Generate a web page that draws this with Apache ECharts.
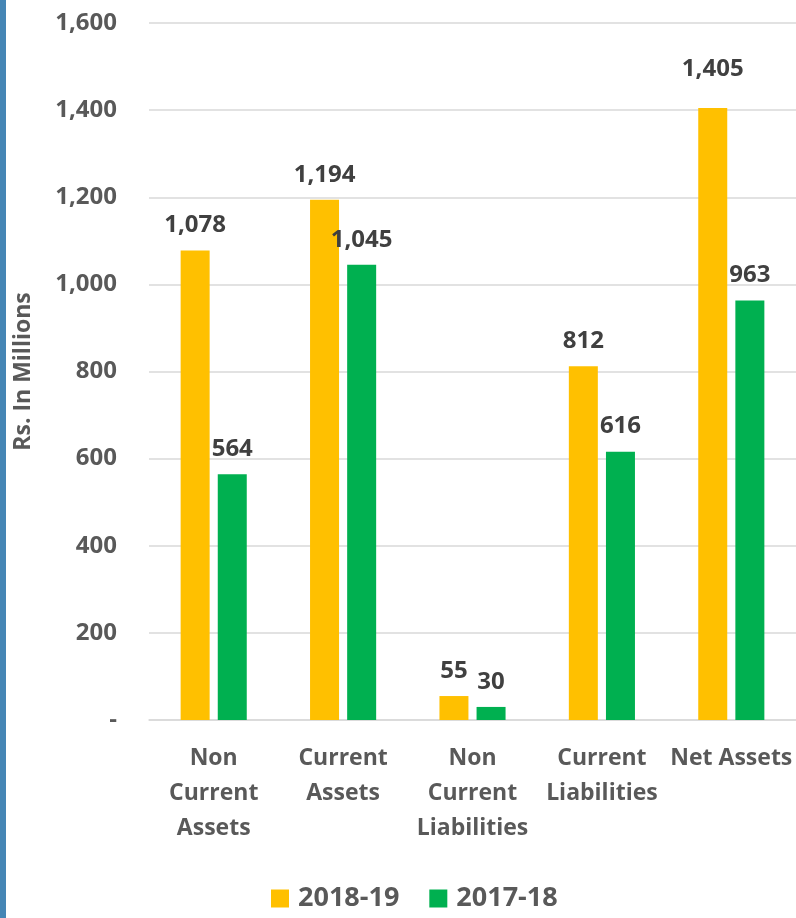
<!DOCTYPE html>
<html>
<head>
<meta charset="utf-8">
<script src="https://cdn.jsdelivr.net/npm/echarts@6/dist/echarts.min.js"></script>
<style>
  html, body { margin: 0; padding: 0; background: #fff; }
  #chart { width: 796px; height: 918px; }
</style>
</head>
<body>
<div id="chart"></div>
<script>
const categories = ['Non\nCurrent\nAssets', 'Current\nAssets', 'Non\nCurrent\nLiabilities', 'Current\nLiabilities', 'Net Assets'];
const seriesNames = ['2018-19', '2017-18'];
const values2018 = [1078, 1194, 55, 812, 1405];
const values2017 = [564, 1045, 30, 616, 963];
const yTicks = { min: 0, max: 1600, interval: 200 };

const FONT = 'Open Sans';
const fmt = v => v === 0 ? '-' : v.toLocaleString('en-US');

const chart = echarts.init(document.getElementById('chart'), null, { renderer: 'canvas' });

const labelStyle = {
  show: true,
  position: 'top',
  distance: 13,
  fontFamily: FONT,
  fontWeight: 'bold',
  fontSize: 24,
  color: '#404040',
  formatter: p => fmt(p.value)
};

chart.setOption({
  animation: false,
  backgroundColor: '#ffffff',
  graphic: [{
    type: 'rect',
    left: 0, top: 0,
    shape: { width: 6, height: 918 },
    style: { fill: '#4586B5' },
    silent: true
  }],
  grid: { left: 149, right: 0, top: 23, bottom: 198, containLabel: false },
  legend: {
    top: 885,
    left: 271,
    padding: 0,
    icon: 'rect',
    itemWidth: 18,
    itemHeight: 18,
    itemGap: 30,
    textStyle: { fontFamily: FONT, fontWeight: 'bold', fontSize: 27, color: '#595959', padding: [0, 0, 0, 4] },
    data: seriesNames
  },
  xAxis: {
    type: 'category',
    data: categories,
    axisLine: { lineStyle: { color: '#D9D9D9', width: 1.5 } },
    axisTick: { show: false },
    axisLabel: {
      interval: 0,
      margin: 21,
      fontFamily: FONT,
      fontWeight: 'bold',
      fontSize: 23,
      lineHeight: 35,
      color: '#595959'
    }
  },
  yAxis: {
    type: 'value',
    min: yTicks.min,
    max: yTicks.max,
    interval: yTicks.interval,
    name: 'Rs. In Millions',
    nameLocation: 'middle',
    nameRotate: 90,
    nameGap: 114,
    nameTextStyle: { fontFamily: FONT, fontWeight: 'bold', fontSize: 23, color: '#595959' },
    axisLine: { show: false },
    axisTick: { show: false },
    splitLine: { lineStyle: { color: '#D9D9D9', width: 1.5 } },
    axisLabel: {
      margin: 32,
      fontFamily: FONT,
      fontWeight: 'bold',
      fontSize: 24,
      color: '#595959',
      formatter: fmt
    }
  },
  series: [
    {
      name: seriesNames[0],
      type: 'bar',
      barWidth: 29,
      barGap: '28%',
      itemStyle: { color: '#FFC000' },
      label: labelStyle,
      data: values2018.map((v, i) => i === values2018.length - 1
        ? { value: v, label: { offset: [0, -14] } }
        : v)
    },
    {
      name: seriesNames[1],
      type: 'bar',
      barWidth: 29,
      barGap: '28%',
      itemStyle: { color: '#00B050' },
      label: labelStyle,
      data: values2017
    }
  ]
});
</script>
</body>
</html>
